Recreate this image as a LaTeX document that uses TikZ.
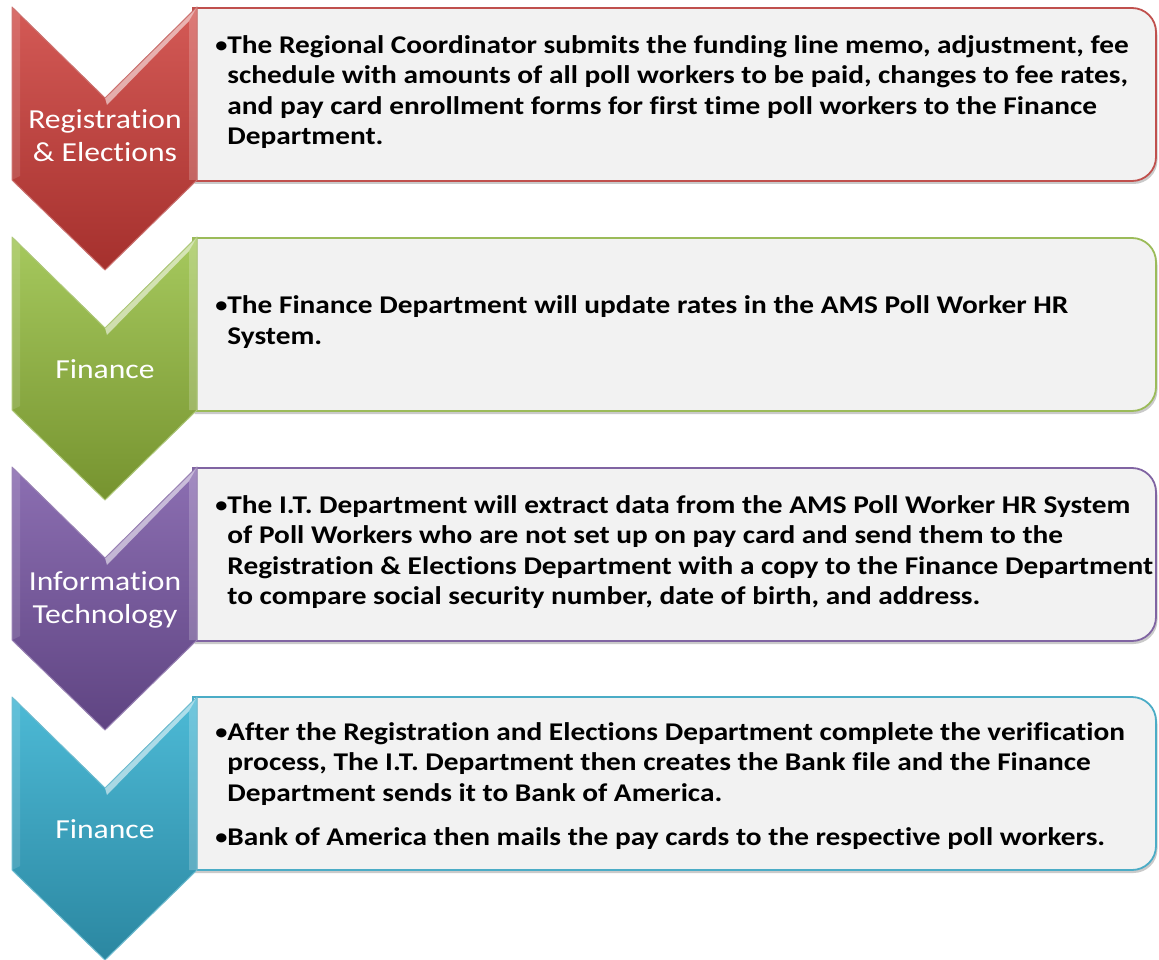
\documentclass[tikz,border=0pt]{standalone}
\usepackage{fontspec}
\setmainfont{Carlito}[Ligatures=NoCommon]
\usetikzlibrary{shadows}
\definecolor{redE}{HTML}{C0504D}
\definecolor{redT}{HTML}{D45A56}
\definecolor{redB}{HTML}{A5302D}
\definecolor{grnE}{HTML}{9BBB59}
\definecolor{grnT}{HTML}{A6C95E}
\definecolor{grnB}{HTML}{76932F}
\definecolor{purE}{HTML}{8064A2}
\definecolor{purT}{HTML}{8C6FB2}
\definecolor{purB}{HTML}{5F4482}
\definecolor{bluE}{HTML}{4BACC6}
\definecolor{bluT}{HTML}{4DBAD6}
\definecolor{bluB}{HTML}{2B87A1}
\definecolor{boxfill}{HTML}{F2F2F2}
\tikzset{
  boxstyle/.style={fill=boxfill, line width=1.8pt, drop shadow={shadow xshift=1.5pt, shadow yshift=-3pt, opacity=0.35, fill=black!60}},
  lbl/.style={text=white, font=\fontsize{27.5}{34}\selectfont, align=center, inner sep=0pt},
  txt/.style={font=\bfseries\fontsize{25.5}{30.2}\selectfont, anchor=west, inner sep=0pt, align=left}
}
\newcommand\procbox[2]{%
  \path[boxstyle, draw=#2] (193,#1) -- (700,#1) [rounded corners=24pt] -- (1156,#1) -- (1156,#1+173) -- (700,#1+173) [sharp corners] -- (193,#1+173) -- cycle;}
\newcommand\chev[4]{%
  \fill[top color=#2, bottom color=#3] (12,#1) -- (105,#1+91) -- (197,#1) -- (197,#1+173) -- (105,#1+263) -- (12,#1+173) -- cycle;
  \fill[white, opacity=0.55] (105,#1+91) -- (197,#1) -- (189,#1+14) -- (107,#1+98) -- cycle;
  \fill[white, opacity=0.2] (189,#1+14) -- (197,#1) -- (197,#1+173) -- (189,#1+173) -- cycle;
  \fill[white, opacity=0.12] (12,#1) -- (20,#1+8) -- (20,#1+169) -- (12,#1+173) -- cycle;
  \draw[#4, line width=1pt, line join=round] (12,#1) -- (105,#1+91) -- (197,#1) -- (197,#1+173) -- (105,#1+263) -- (12,#1+173) -- cycle;}
\newcommand\sx[1]{\scalebox{1.15}[1]{#1}}
\newcommand\bul{\textmd{\textbullet}}
\begin{document}
\begin{tikzpicture}[x=1pt,y=-1pt]
\useasboundingbox (0,0) rectangle (1159,960);
% boxes
\procbox{8}{redE}
\procbox{238}{grnE}
\procbox{468}{purE}
\procbox{697}{bluE}
% chevrons
\chev{7}{redT}{redB}{redE!80!white}
\chev{237}{grnT}{grnB}{grnE!80!white}
\chev{467}{purT}{purB}{purE!80!white}
\chev{697}{bluT}{bluB}{bluE!80!white}
% labels
\node[lbl] (l1) at (105,138) {\sx{\begin{tabular}{@{}c@{}}Registration\\[-1pt]\& Elections\end{tabular}}};
\node[lbl] (l2) at (105,369) {\sx{Finance}};
\node[lbl] (l3) at (105,600) {\sx{\begin{tabular}{@{}c@{}}Information\\[-1pt]Technology\end{tabular}}};
\node[lbl] (l4) at (105,829) {\sx{Finance}};
% texts
\node[txt] (t1) at (214,93) {\sx{\begin{tabular}{@{}p{11.5pt}@{}l@{}}
\bul & The Regional Coordinator submits the funding line memo, adjustment, fee\\
 & schedule with amounts of all poll workers to be paid, changes to fee rates,\\
 & and pay card enrollment forms for first time poll workers to the Finance\\
 & Department.\end{tabular}}};
\node[txt] (t2) at (214,323) {\sx{\begin{tabular}{@{}p{11.5pt}@{}l@{}}
\bul & The Finance Department will update rates in the AMS Poll Worker HR\\
 & System.\end{tabular}}};
\node[txt] (t3) at (214,553) {\sx{\begin{tabular}{@{}p{11.5pt}@{}l@{}}
\bul & The I.T. Department will extract data from the AMS Poll Worker HR System\\
 & of Poll Workers who are not set up on pay card and send them to the\\
 & Registration \& Elections Department with a copy to the Finance Department\\
 & to compare social security number, date of birth, and address.\end{tabular}}};
\node[txt] (t4) at (214,787) {\sx{\begin{tabular}{@{}p{11.5pt}@{}l@{}}
\bul & After the Registration and Elections Department complete the verification\\
 & process, The I.T. Department then creates the Bank file and the Finance\\
 & Department sends it to Bank of America.\\[14pt]
\bul & Bank of America then mails the pay cards to the respective poll workers.\end{tabular}}};
\end{tikzpicture}
\end{document}
